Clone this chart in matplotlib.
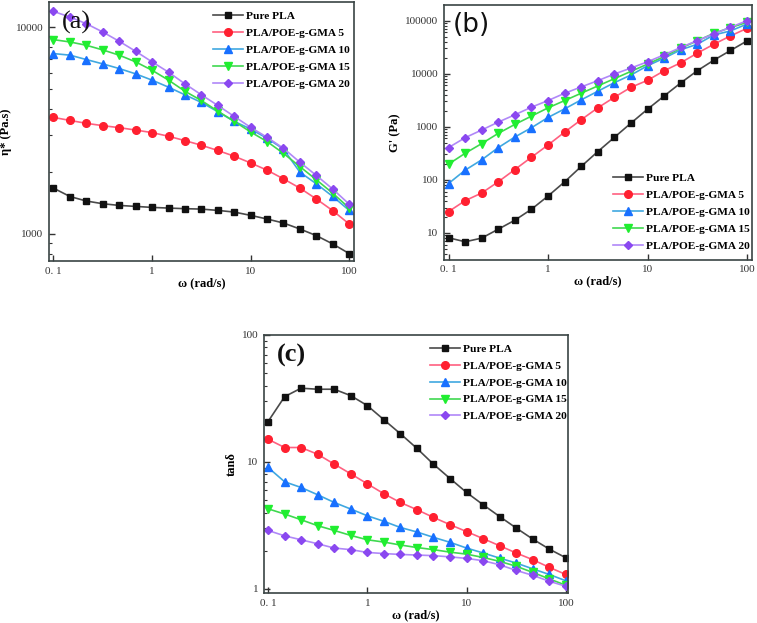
import numpy as np
import matplotlib
matplotlib.use("Agg")
import matplotlib.pyplot as plt
from matplotlib.ticker import FixedLocator, LogLocator, NullFormatter, NullLocator

plt.rcParams['font.family'] = ['Liberation Serif', 'DejaVu Serif']

# angular frequency (rad/s), same for every sweep
omega = [0.1, 0.147, 0.215, 0.316, 0.464, 0.681, 1, 1.47, 2.15, 3.16,
         4.64, 6.81, 10, 14.7, 21.5, 31.6, 46.4, 68.1, 100]

labels = ['Pure PLA', 'PLA/POE-g-GMA 5', 'PLA/POE-g-GMA 10',
          'PLA/POE-g-GMA 15', 'PLA/POE-g-GMA 20']

# (a) complex viscosity, Pa.s
eta_pure = [1665, 1517, 1443, 1400, 1374, 1359, 1344, 1334, 1325, 1319,
            1300, 1276, 1230, 1181, 1130, 1057, 982, 895, 804]
eta_5 = [3657, 3537, 3425, 3337, 3264, 3178, 3089, 2966, 2826, 2684,
         2532, 2376, 2204, 2033, 1847, 1666, 1476, 1296, 1117]
eta_10 = [7441, 7311, 6963, 6636, 6300, 5939, 5537, 5120, 4705, 4324,
          3898, 3501, 3214, 2897, 2575, 1989, 1748, 1518, 1300]
eta_15 = [8689, 8467, 8163, 7751, 7311, 6785, 6181, 5537, 4897, 4415,
          3923, 3501, 3111, 2794, 2453, 2116, 1828, 1574, 1334]
eta_20 = [11896, 11172, 10377, 9461, 8531, 7636, 6785, 6050, 5317, 4705,
          4180, 3700, 3275, 2930, 2595, 2221, 1918, 1648, 1393]

# (b) storage modulus, Pa
g_pure = [8.06, 6.78, 7.94, 11.7, 17.3, 27.8, 49.4, 91.7, 178, 340,
          631, 1171, 2144, 3813, 6683, 11380, 18030, 27380, 41560]
g_5 = [25.1, 40.4, 56.2, 91.7, 156, 266, 453, 794, 1352, 2270,
       3597, 5543, 7499, 11380, 16070, 24410, 35960, 51590, 71800]
g_10 = [85, 152, 237, 404, 640, 957, 1496, 2175, 3207, 4664,
        6779, 9441, 14130, 19670, 28180, 35960, 53830, 63970, 86600]
g_15 = [197, 316, 480, 750, 1106, 1585, 2270, 3118, 4278, 5871,
        8058, 11060, 15180, 21130, 30270, 41560, 57890, 73920, 93070]
g_20 = [404, 622, 866, 1223, 1679, 2337, 3118, 4278, 5623, 7391,
        9863, 12770, 16790, 22710, 31180, 42170, 56230, 74990, 100000]

# (c) loss tangent
tan_pure = [20.8, 32.7, 38.1, 37.4, 37.4, 33.3, 27.8, 21.5, 16.7, 12.8,
            9.6, 7.41, 5.75, 4.60, 3.72, 3.02, 2.47, 2.06, 1.76]
tan_5 = [15.1, 13.0, 13.0, 11.5, 9.62, 8.07, 6.73, 5.62, 4.80, 4.21,
         3.66, 3.21, 2.83, 2.49, 2.19, 1.92, 1.70, 1.48, 1.30]
tan_10 = [9.06, 6.98, 6.30, 5.52, 4.80, 4.26, 3.77, 3.41, 3.05, 2.81,
          2.55, 2.33, 2.10, 1.92, 1.75, 1.60, 1.44, 1.30, 1.16]
tan_15 = [4.28, 3.89, 3.51, 3.15, 2.89, 2.64, 2.44, 2.34, 2.22, 2.12,
          2.04, 1.95, 1.88, 1.77, 1.65, 1.51, 1.35, 1.20, 1.07]
tan_20 = [2.89, 2.62, 2.44, 2.27, 2.10, 2.04, 1.94, 1.90, 1.87, 1.85,
          1.83, 1.79, 1.74, 1.67, 1.55, 1.40, 1.28, 1.15, 1.05]

x_ticks = [0.1, 1, 10, 100]
x_ticklabels = ['0. 1', '1', '10', '100']

line_cols = ['#4a4a4a', '#ff6080', '#40a8e0', '#40d850', '#b088f8']
mark_cols = ['#111111', '#ff2030', '#1870ff', '#20ee30', '#8a48f0']
markers = ['s', 'o', '^', 'v', 'D']
msizes = [5, 5.5, 5.5, 5.5, 4.5]

fig = plt.figure(figsize=(7.57, 6.23), dpi=100)
ax_a = fig.add_axes([0.0647, 0.581, 0.403, 0.4157])
ax_b = fig.add_axes([0.5865, 0.583, 0.4069, 0.4093])
ax_c = fig.add_axes([0.3487, 0.0482, 0.4016, 0.4141])


def draw(ax, series, ylim, yticks, yticklabels, ylabel, tag, tag_font,
         tag_weight, leg_xy):
    for i, ys in enumerate(series):
        ax.plot(omega, ys, color=line_cols[i], lw=1.2, marker=markers[i],
                ms=msizes[i], mfc=mark_cols[i], mec=mark_cols[i],
                label=labels[i])
    ax.set_xscale('log')
    ax.set_yscale('log')
    ax.set_xlim(0.09, 112)
    ax.set_ylim(*ylim)
    ax.xaxis.set_major_locator(FixedLocator(x_ticks))
    ax.set_xticklabels(x_ticklabels)
    ax.xaxis.set_minor_locator(NullLocator())
    ax.yaxis.set_major_locator(FixedLocator(yticks))
    ax.set_yticklabels(yticklabels)
    ax.yaxis.set_minor_locator(LogLocator(base=10, subs=np.arange(2, 10)))
    ax.yaxis.set_minor_formatter(NullFormatter())
    ax.tick_params(axis='both', which='major', direction='in', length=4,
                   width=1, labelsize=8, colors='#333333', pad=4)
    ax.tick_params(axis='y', which='minor', direction='in', length=2.5,
                   width=0.8, colors='#333333')
    for s in ax.spines.values():
        s.set_color('#3a4444')
        s.set_linewidth(1.2)
    ax.set_xlabel('ω (rad/s)', fontsize=9, fontweight='bold', labelpad=1)
    ax.set_ylabel(ylabel, fontsize=9, fontweight='bold', labelpad=3)
    ax.text(0.09, 0.92, tag, transform=ax.transAxes, fontsize=19,
            family=tag_font, weight=tag_weight, ha='center', va='center',
            color='#111111')
    ax.legend(loc='upper left', bbox_to_anchor=leg_xy, frameon=False,
              prop={'weight': 'bold', 'size': 8.2}, borderpad=0,
              borderaxespad=0, labelspacing=0.61, handlelength=2.6,
              handletextpad=0.3)


draw(ax_a, [eta_pure, eta_5, eta_10, eta_15, eta_20], (740, 13200),
     [1000, 10000], ['1000', '10000'], 'η* (Pa.s)', '(a)',
     ['Liberation Serif'], 'normal', (0.538, 0.966))
draw(ax_b, [g_pure, g_5, g_10, g_15, g_20], (3.1, 199000),
     [10, 100, 1000, 10000, 100000],
     ['10', '100', '1000', '10000', '100000'], "G' (Pa)", '(b)',
     ['DejaVu Sans'], 'normal', (0.549, 0.340))
draw(ax_c, [tan_pure, tan_5, tan_10, tan_15, tan_20], (0.93, 100),
     [1, 10, 100], ['1', '10', '100'], 'tanδ', '(c)',
     ['Liberation Serif'], 'bold', (0.546, 0.966))
ax_c.set_xlim(0.091, 105)

fig.savefig('out.png', dpi=100)
